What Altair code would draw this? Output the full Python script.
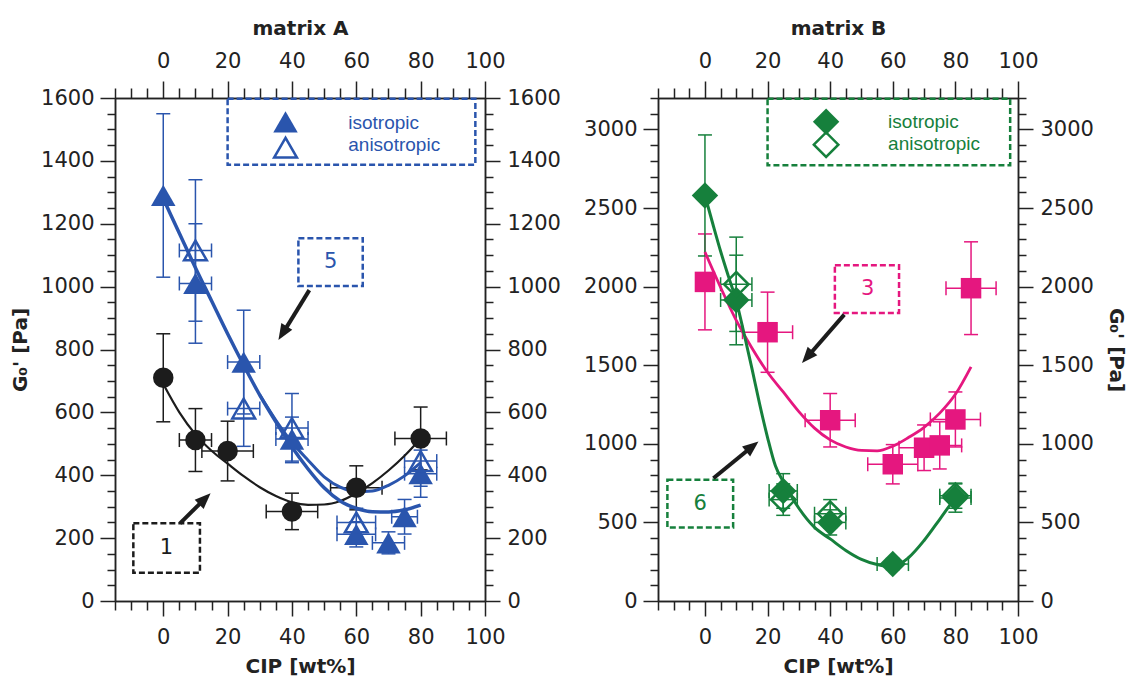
import altair as alt
import pandas as pd

# ---------------- colours / fonts ----------------
BLACK = "#1c1c1c"
BLUE = "#2a55ad"
GREEN = "#16803c"
PINK = "#e5177f"
AXC = "#222222"
FONT = "DejaVu Sans"
LFONT = "Liberation Sans"

# ---------------- axes ----------------
X_DOMAIN = [-15, 100]
X_MAJOR = [0, 20, 40, 60, 80, 100]
X_MINOR = [-15, -10, -5, 5, 10, 15, 25, 30, 35, 45, 50, 55, 65, 70, 75, 85, 90, 95]
A_Y_DOMAIN = [0, 1600]
A_Y_MAJOR = [0, 200, 400, 600, 800, 1000, 1200, 1400, 1600]
A_Y_MINOR = [50, 100, 150, 250, 300, 350, 450, 500, 550, 650, 700, 750, 850, 900, 950,
             1050, 1100, 1150, 1250, 1300, 1350, 1450, 1500, 1550]
B_Y_DOMAIN = [0, 3200]
B_Y_MAJOR = [0, 500, 1000, 1500, 2000, 2500, 3000]
B_Y_MINOR = [100, 200, 300, 400, 600, 700, 800, 900, 1100, 1200, 1300, 1400, 1600, 1700,
             1800, 1900, 2100, 2200, 2300, 2400, 2600, 2700, 2800, 2900, 3100, 3200]

# ---------------- matrix A data ----------------
A1_x = [0, 10, 20, 40, 60, 80]
A1_y = [710, 512, 477, 285, 360, 517]
A1_ey = [140, 100, 95, 58, 70, 100]
A1_ex = [0, 5, 8, 8, 8, 8]

Ai_x = [0, 10, 25, 40, 60, 70, 75, 80]
Ai_y = [1290, 1010, 760, 515, 212, 185, 268, 405]
Ai_ey = [260, 190, 165, 70, 40, 35, 55, 75]
Ai_ex = [0, 5, 5, 5, 6, 5, 4, 5]

Aa_x = [10, 25, 40, 60, 80]
Aa_y = [1115, 612, 550, 250, 445]
Aa_ey = [225, 120, 110, 45, 80]
Aa_ex = [5, 5, 5, 6, 5]

A1_fit_x = [0, 5, 10, 15, 20, 25, 30, 35, 40, 45, 50, 55, 60, 65, 70, 75, 80]
A1_fit_y = [690, 600, 530, 478, 437, 397, 362, 334, 314, 306, 307, 318, 343, 375, 415, 462, 517]
Ai_fit_x = [0, 5, 10, 15, 20, 25, 30, 35, 40, 45, 50, 55, 60, 65, 70, 75, 80]
Ai_fit_y = [1280, 1170, 1060, 955, 850, 750, 655, 570, 490, 420, 360, 318, 295, 284, 283, 290, 305]
Aa_fit_x = [30, 35, 40, 45, 50, 55, 60, 65, 70, 75, 80]
Aa_fit_y = [655, 575, 505, 448, 395, 362, 348, 350, 368, 398, 440]

# ---------------- matrix B data ----------------
B3_x = [0, 20, 40, 60, 70, 75, 80, 85]
B3_y = [2030, 1710, 1150, 870, 975, 990, 1155, 1990]
B3_ey = [305, 255, 170, 125, 145, 150, 175, 295]
B3_ex = [0, 8, 8, 8, 8, 7, 8, 8]

Bi_x = [0, 10, 25, 40, 60, 80]
Bi_y = [2580, 1915, 700, 500, 235, 655]
Bi_ey = [385, 285, 110, 80, 35, 90]
Bi_ex = [0, 5, 4.5, 5, 5, 5]

Ba_x = [10, 25, 40, 80]
Ba_y = [2015, 645, 555, 670]
Ba_ey = [300, 100, 90, 80]
Ba_ex = [5, 4.5, 5, 5]

B3_fit_x = [0, 5, 10, 15, 20, 25, 30, 35, 40, 45, 50, 55, 60, 65, 70, 75, 80, 85]
B3_fit_y = [2220, 1995, 1785, 1610, 1455, 1330, 1205, 1100, 1025, 980, 958, 955, 985, 1040, 1105, 1195, 1315, 1490]
B6_fit_x = [0, 2.5, 5, 7.5, 10, 12.5, 15, 17.5, 20, 22.5, 25, 30, 35, 40, 45, 50, 55, 60, 65, 70, 75, 80]
B6_fit_y = [2580, 2400, 2225, 2065, 1910, 1700, 1480, 1250, 1040, 860, 760, 590, 468, 395, 322, 265, 232, 218, 275, 385, 520, 660]

# ---------------- annotations ----------------
A_box_x = [20, 42, -9.3]
A_box_x2 = [97, 62, 11.4]
A_box_y = [1388, 1002, 90]
A_box_y2 = [1598, 1154, 247]
A_box_col = [BLUE, BLUE, BLACK]
A_num_x = [52, 1]
A_num_y = [1078, 168]
A_num_t = ["5", "1"]
A_num_col = [BLUE, BLACK]
A_arrow_x = [45.4, 5.2]
A_arrow_y = [989, 247]
A_arrow_x2 = [37.2, 12.9]
A_arrow_y2 = [852, 325]
A_tip_x = [35.8, 14.7]
A_tip_y = [830, 343]
A_tip_ang = [211.5, 45.4]
A_leg_mx = [38, 38]
A_leg_my = [1524, 1442]
A_leg_tx = [57.5, 57.5]
A_leg_ty = [1522, 1452]
A_leg_t = ["isotropic", "anisotropic"]

B_box_x = [20, 41.5, -12]
B_box_x2 = [97.5, 62, 9]
B_box_y = [2772, 1833, 467]
B_box_y2 = [3196, 2136, 772]
B_box_col = [GREEN, PINK, GREEN]
B_num_x = [52, -1.5]
B_num_y = [1985, 620]
B_num_t = ["3", "6"]
B_num_col = [PINK, GREEN]
B_arrow_x = [44.5, 2.7]
B_arrow_y = [1822, 781]
B_arrow_x2 = [32.7, 15.1]
B_arrow_y2 = [1552, 983]
B_tip_x = [31, 17.1]
B_tip_y = [1514, 1015]
B_tip_ang = [221, 50.8]
B_leg_mx = [38.7, 38.7]
B_leg_my = [3049, 2903]
B_leg_tx = [58.5, 58.5]
B_leg_ty = [3045, 2905]
B_leg_t = ["isotropic", "anisotropic"]

ARROW_PATH = "M0,0L-0.8,2L0.8,2Z"


def xsc():
    return alt.Scale(domain=X_DOMAIN, nice=False, zero=False)


def ysc(dom):
    return alt.Scale(domain=dom, nice=False, zero=False)


def ax(orient, values, size, labels=True, title=None, lpad=9, tpad=8):
    return alt.Axis(orient=orient, values=values, tickSize=size, tickWidth=1.5,
                    tickColor=AXC, domain=True, domainColor=AXC, domainWidth=1.5,
                    grid=False, labels=labels, labelFont=FONT, labelFontSize=21,
                    labelColor=AXC, labelOverlap=False, labelFlush=False,
                    labelPadding=lpad, format="d", title=title, titleFont=FONT,
                    titleFontSize=20, titleFontWeight="bold", titleColor=AXC,
                    titlePadding=tpad)


def axis_layer(ydom, xaxis, yaxis):
    df = pd.DataFrame({"x": X_DOMAIN, "y": ydom})
    return alt.Chart(df).mark_point(opacity=0).encode(
        x=alt.X("x:Q", scale=xsc(), axis=xaxis),
        y=alt.Y("y:Q", scale=ysc(ydom), axis=yaxis),
    )


def X(f):
    return alt.X(f, type="quantitative", scale=xsc(), axis=None)


def Y(f, ydom):
    return alt.Y(f, type="quantitative", scale=ysc(ydom), axis=None)


def errbars(xv, yv, eyv, exv, color, ydom):
    df = pd.DataFrame({"x": xv, "y": yv, "ey": eyv, "ex": exv})
    df["ylo"] = df["y"] - df["ey"]
    df["yhi"] = df["y"] + df["ey"]
    df["xlo"] = df["x"] - df["ex"]
    df["xhi"] = df["x"] + df["ex"]
    dh = df[df["ex"] > 0]
    v = alt.Chart(df).mark_rule(color=color, strokeWidth=1.5).encode(
        x=X("x"), y=Y("ylo", ydom), y2="yhi")
    h = alt.Chart(dh).mark_rule(color=color, strokeWidth=1.5).encode(
        x=X("xlo"), x2="xhi", y=Y("y", ydom))
    cy = pd.concat([pd.DataFrame({"x": df["x"], "c": df["ylo"]}),
                    pd.DataFrame({"x": df["x"], "c": df["yhi"]})])
    cx = pd.concat([pd.DataFrame({"c": dh["xlo"], "y": dh["y"]}),
                    pd.DataFrame({"c": dh["xhi"], "y": dh["y"]})])
    capy = alt.Chart(cy).mark_tick(orient="horizontal", size=14, thickness=1.5,
                                   color=color, opacity=1).encode(x=X("x"), y=Y("c", ydom))
    capx = alt.Chart(cx).mark_tick(orient="vertical", size=14, thickness=1.5,
                                   color=color, opacity=1).encode(x=X("c"), y=Y("y", ydom))
    return [v, h, capy, capx]


def curve(xv, yv, color, width, ydom):
    df = pd.DataFrame({"x": xv, "y": yv})
    return alt.Chart(df).mark_line(color=color, strokeWidth=width, interpolate="monotone").encode(
        x=X("x"), y=Y("y", ydom))


def markers(xv, yv, shape, size, color, ydom, filled=True):
    df = pd.DataFrame({"x": xv, "y": yv})
    if filled:
        m = alt.Chart(df).mark_point(shape=shape, size=size, filled=True, color=color, opacity=1)
    else:
        m = alt.Chart(df).mark_point(shape=shape, size=size, filled=False, color=color,
                                     strokeWidth=2.5, opacity=1)
    return m.encode(x=X("x"), y=Y("y", ydom))


def boxes(x1, x2, y1, y2, cols, ydom):
    df = pd.DataFrame({"x": x1, "x2": x2, "y": y1, "y2": y2, "c": cols})
    return alt.Chart(df).mark_rect(fillOpacity=0, strokeWidth=2.5, strokeDash=[6, 3]).encode(
        x=X("x"), x2="x2", y=Y("y", ydom), y2="y2",
        stroke=alt.Stroke("c:N", scale=None))


def nums(xv, yv, tv, cols, ydom):
    df = pd.DataFrame({"x": xv, "y": yv, "t": tv, "c": cols})
    return alt.Chart(df).mark_text(font=FONT, fontSize=21, baseline="middle", align="center").encode(
        x=X("x"), y=Y("y", ydom), text="t:N", color=alt.Color("c:N", scale=None))


def arrows(x1, y1, x2, y2, tx, ty, ang, ydom):
    d1 = pd.DataFrame({"x": x1, "y": y1, "x2": x2, "y2": y2})
    d2 = pd.DataFrame({"x": tx, "y": ty, "a": ang})
    shaft = alt.Chart(d1).mark_rule(color=BLACK, strokeWidth=4).encode(
        x=X("x"), y=Y("y", ydom), x2="x2", y2="y2")
    head = alt.Chart(d2).mark_point(shape=ARROW_PATH, size=256, filled=True,
                                    color=BLACK, opacity=1).encode(
        x=X("x"), y=Y("y", ydom), angle=alt.Angle("a:Q", scale=None))
    return [shaft, head]


def legend_text(xv, yv, tv, color, ydom):
    df = pd.DataFrame({"x": xv, "y": yv, "t": tv})
    return alt.Chart(df).mark_text(font=LFONT, fontSize=19, align="left", baseline="middle",
                                   color=color).encode(x=X("x"), y=Y("y", ydom), text="t:N")


G_TITLE = "G\u2080' [Pa]"


def axis_layers(ydom, ymaj, ymin, top_title, left_title, right_title):
    return [
        axis_layer(ydom, ax("bottom", X_MAJOR, 15, title="CIP [wt%]", lpad=10, tpad=9),
                   ax("left", ymaj, 15, title=left_title, lpad=6, tpad=10)),
        axis_layer(ydom, ax("top", X_MAJOR, 17, title=top_title, lpad=10, tpad=12),
                   ax("right", ymaj, 15, title=right_title, lpad=7, tpad=12)),
        axis_layer(ydom, ax("bottom", X_MINOR, 9, labels=False),
                   ax("left", ymin, 8, labels=False)),
        axis_layer(ydom, ax("top", X_MINOR, 10, labels=False),
                   ax("right", ymin, 8, labels=False)),
    ]


# ---------------- panel A ----------------
dA = A_Y_DOMAIN
layersA = axis_layers(dA, A_Y_MAJOR, A_Y_MINOR, "matrix A", G_TITLE, None)
layersA += [boxes(A_box_x, A_box_x2, A_box_y, A_box_y2, A_box_col, dA)]
layersA += errbars(A1_x, A1_y, A1_ey, A1_ex, BLACK, dA)
layersA += errbars(Ai_x, Ai_y, Ai_ey, Ai_ex, BLUE, dA)
layersA += errbars(Aa_x, Aa_y, Aa_ey, Aa_ex, BLUE, dA)
layersA += [
    curve(A1_fit_x, A1_fit_y, BLACK, 2.2, dA),
    curve(Aa_fit_x, Aa_fit_y, BLUE, 3, dA),
    curve(Ai_fit_x, Ai_fit_y, BLUE, 3.5, dA),
    markers(A1_x, A1_y, "circle", 420, BLACK, dA),
    markers(Ai_x, Ai_y, "triangle-up", 600, BLUE, dA),
    markers(Aa_x, Aa_y, "triangle-up", 520, BLUE, dA, filled=False),
    markers(A_leg_mx[:1], A_leg_my[:1], "triangle-up", 600, BLUE, dA),
    markers(A_leg_mx[1:], A_leg_my[1:], "triangle-up", 520, BLUE, dA, filled=False),
    legend_text(A_leg_tx, A_leg_ty, A_leg_t, BLUE, dA),
    nums(A_num_x, A_num_y, A_num_t, A_num_col, dA),
]
layersA += arrows(A_arrow_x, A_arrow_y, A_arrow_x2, A_arrow_y2, A_tip_x, A_tip_y, A_tip_ang, dA)
panelA = alt.layer(*layersA).resolve_axis(x="independent", y="independent").properties(
    width=370, height=503)

# ---------------- panel B ----------------
dB = B_Y_DOMAIN
layersB = axis_layers(dB, B_Y_MAJOR, B_Y_MINOR, "matrix B", None, G_TITLE)
layersB += [boxes(B_box_x, B_box_x2, B_box_y, B_box_y2, B_box_col, dB)]
layersB += errbars(B3_x, B3_y, B3_ey, B3_ex, PINK, dB)
layersB += errbars(Bi_x, Bi_y, Bi_ey, Bi_ex, GREEN, dB)
layersB += errbars(Ba_x, Ba_y, Ba_ey, Ba_ex, GREEN, dB)
layersB += [
    curve(B3_fit_x, B3_fit_y, PINK, 2.8, dB),
    curve(B6_fit_x, B6_fit_y, GREEN, 3, dB),
    markers(B3_x, B3_y, "square", 420, PINK, dB),
    markers(Bi_x, Bi_y, "diamond", 700, GREEN, dB),
    markers(Ba_x, Ba_y, "diamond", 600, GREEN, dB, filled=False),
    markers(B_leg_mx[:1], B_leg_my[:1], "diamond", 700, GREEN, dB),
    markers(B_leg_mx[1:], B_leg_my[1:], "diamond", 600, GREEN, dB, filled=False),
    legend_text(B_leg_tx, B_leg_ty, B_leg_t, GREEN, dB),
    nums(B_num_x, B_num_y, B_num_t, B_num_col, dB),
]
layersB += arrows(B_arrow_x, B_arrow_y, B_arrow_x2, B_arrow_y2, B_tip_x, B_tip_y, B_tip_ang, dB)
panelB = alt.layer(*layersB).resolve_axis(x="independent", y="independent").properties(
    width=360, height=503)

chart = alt.hconcat(panelA, panelB, spacing=173, bounds="flush").properties(
    autosize=alt.AutoSizeParams(type="none"),
    padding={"left": 115, "top": 98, "right": 1018, "bottom": 583},
    background="white",
).configure_view(strokeWidth=0)

chart.save("out.html", embed_options={"renderer": "svg", "actions": False})
